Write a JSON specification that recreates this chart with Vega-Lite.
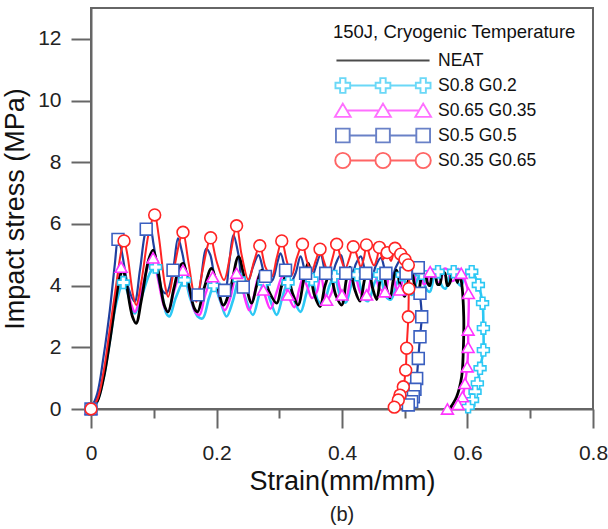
{
  "$schema": "https://vega.github.io/schema/vega-lite/v6.json",
  "width": 502,
  "height": 401,
  "autosize": {"type": "none"},
  "padding": {"left": 91, "top": 8, "right": 15, "bottom": 120},
  "config": {
    "font": "Liberation Sans",
    "view": {"stroke": "#666666", "strokeWidth": 2},
    "axis": {"grid": false, "labelFlush": false, "labelOverlap": false}
  },
  "title": {"text": "(b)", "orient": "bottom", "fontSize": 20, "fontWeight": "normal", "font": "Liberation Sans", "color": "#222222", "offset": 11},
  "datasets": {
    "curves": [
      {"s":"S0.8 G0.2","x":0,"y":0},{"s":"S0.8 G0.2","x":0.01,"y":0.25},{"s":"S0.8 G0.2","x":0.02,"y":1.0},{"s":"S0.8 G0.2","x":0.03,"y":2.2},{"s":"S0.8 G0.2","x":0.04,"y":3.4},{"s":"S0.8 G0.2","x":0.0515,"y":4.1},{"s":"S0.8 G0.2","x":0.058,"y":3.8},{"s":"S0.8 G0.2","x":0.066,"y":3.2},{"s":"S0.8 G0.2","x":0.07,"y":3.1},{"s":"S0.8 G0.2","x":0.08,"y":3.6},{"s":"S0.8 G0.2","x":0.095,"y":4.45},{"s":"S0.8 G0.2","x":0.103,"y":4.6},{"s":"S0.8 G0.2","x":0.11,"y":4.1},{"s":"S0.8 G0.2","x":0.12,"y":3.1},{"s":"S0.8 G0.2","x":0.125,"y":3.0},{"s":"S0.8 G0.2","x":0.135,"y":3.6},{"s":"S0.8 G0.2","x":0.149,"y":4.18},{"s":"S0.8 G0.2","x":0.158,"y":3.6},{"s":"S0.8 G0.2","x":0.17,"y":3.0},{"s":"S0.8 G0.2","x":0.178,"y":2.94},{"s":"S0.8 G0.2","x":0.188,"y":3.6},{"s":"S0.8 G0.2","x":0.196,"y":4.0},{"s":"S0.8 G0.2","x":0.206,"y":3.5},{"s":"S0.8 G0.2","x":0.216,"y":3.0},{"s":"S0.8 G0.2","x":0.226,"y":3.5},{"s":"S0.8 G0.2","x":0.236,"y":4.2},{"s":"S0.8 G0.2","x":0.246,"y":3.6},{"s":"S0.8 G0.2","x":0.258,"y":3.05},{"s":"S0.8 G0.2","x":0.268,"y":3.7},{"s":"S0.8 G0.2","x":0.276,"y":4.1},{"s":"S0.8 G0.2","x":0.286,"y":3.5},{"s":"S0.8 G0.2","x":0.296,"y":3.05},{"s":"S0.8 G0.2","x":0.306,"y":3.7},{"s":"S0.8 G0.2","x":0.314,"y":4.1},{"s":"S0.8 G0.2","x":0.324,"y":3.5},{"s":"S0.8 G0.2","x":0.334,"y":3.15},{"s":"S0.8 G0.2","x":0.344,"y":3.8},{"s":"S0.8 G0.2","x":0.352,"y":4.2},{"s":"S0.8 G0.2","x":0.362,"y":3.5},{"s":"S0.8 G0.2","x":0.37,"y":3.4},{"s":"S0.8 G0.2","x":0.38,"y":4.0},{"s":"S0.8 G0.2","x":0.388,"y":4.3},{"s":"S0.8 G0.2","x":0.398,"y":3.6},{"s":"S0.8 G0.2","x":0.406,"y":3.45},{"s":"S0.8 G0.2","x":0.416,"y":4.1},{"s":"S0.8 G0.2","x":0.424,"y":4.35},{"s":"S0.8 G0.2","x":0.434,"y":3.6},{"s":"S0.8 G0.2","x":0.442,"y":3.5},{"s":"S0.8 G0.2","x":0.452,"y":4.1},{"s":"S0.8 G0.2","x":0.46,"y":4.35},{"s":"S0.8 G0.2","x":0.47,"y":3.65},{"s":"S0.8 G0.2","x":0.478,"y":3.55},{"s":"S0.8 G0.2","x":0.488,"y":4.1},{"s":"S0.8 G0.2","x":0.496,"y":4.35},{"s":"S0.8 G0.2","x":0.505,"y":3.8},{"s":"S0.8 G0.2","x":0.512,"y":3.7},{"s":"S0.8 G0.2","x":0.52,"y":4.2},{"s":"S0.8 G0.2","x":0.527,"y":4.4},{"s":"S0.8 G0.2","x":0.534,"y":3.9},{"s":"S0.8 G0.2","x":0.54,"y":3.8},{"s":"S0.8 G0.2","x":0.547,"y":4.3},{"s":"S0.8 G0.2","x":0.553,"y":4.45},{"s":"S0.8 G0.2","x":0.559,"y":4.0},{"s":"S0.8 G0.2","x":0.565,"y":3.9},{"s":"S0.8 G0.2","x":0.572,"y":4.35},{"s":"S0.8 G0.2","x":0.578,"y":4.45},{"s":"S0.8 G0.2","x":0.584,"y":4.1},{"s":"S0.8 G0.2","x":0.59,"y":4.0},{"s":"S0.8 G0.2","x":0.596,"y":4.3},{"s":"S0.8 G0.2","x":0.6067,"y":4.45},{"s":"S0.8 G0.2","x":0.6173,"y":4.02},{"s":"S0.8 G0.2","x":0.624,"y":3.43},{"s":"S0.8 G0.2","x":0.6253,"y":2.62},{"s":"S0.8 G0.2","x":0.6253,"y":1.91},{"s":"S0.8 G0.2","x":0.62,"y":1.32},{"s":"S0.8 G0.2","x":0.6157,"y":0.83},{"s":"S0.8 G0.2","x":0.612,"y":0.56},{"s":"S0.8 G0.2","x":0.608,"y":0.29},{"s":"S0.8 G0.2","x":0.601,"y":0.07},{"s":"S0.8 G0.2","x":0.597,"y":0.0},

      {"s":"S0.65 G0.35","x":0,"y":0},{"s":"S0.65 G0.35","x":0.01,"y":0.3},{"s":"S0.65 G0.35","x":0.02,"y":1.1},{"s":"S0.65 G0.35","x":0.03,"y":2.3},{"s":"S0.65 G0.35","x":0.04,"y":3.7},{"s":"S0.65 G0.35","x":0.048,"y":4.6},{"s":"S0.65 G0.35","x":0.053,"y":4.4},{"s":"S0.65 G0.35","x":0.064,"y":3.4},{"s":"S0.65 G0.35","x":0.07,"y":3.15},{"s":"S0.65 G0.35","x":0.08,"y":3.8},{"s":"S0.65 G0.35","x":0.093,"y":4.75},{"s":"S0.65 G0.35","x":0.099,"y":4.9},{"s":"S0.65 G0.35","x":0.106,"y":4.3},{"s":"S0.65 G0.35","x":0.117,"y":3.3},{"s":"S0.65 G0.35","x":0.1227,"y":3.15},{"s":"S0.65 G0.35","x":0.132,"y":3.8},{"s":"S0.65 G0.35","x":0.142,"y":4.4},{"s":"S0.65 G0.35","x":0.1466,"y":4.5},{"s":"S0.65 G0.35","x":0.155,"y":4.0},{"s":"S0.65 G0.35","x":0.166,"y":3.15},{"s":"S0.65 G0.35","x":0.173,"y":3.05},{"s":"S0.65 G0.35","x":0.182,"y":3.7},{"s":"S0.65 G0.35","x":0.194,"y":4.29},{"s":"S0.65 G0.35","x":0.2,"y":4.0},{"s":"S0.65 G0.35","x":0.213,"y":3.2},{"s":"S0.65 G0.35","x":0.222,"y":3.6},{"s":"S0.65 G0.35","x":0.232,"y":4.4},{"s":"S0.65 G0.35","x":0.24,"y":4.0},{"s":"S0.65 G0.35","x":0.252,"y":3.2},{"s":"S0.65 G0.35","x":0.26,"y":3.7},{"s":"S0.65 G0.35","x":0.267,"y":4.3},{"s":"S0.65 G0.35","x":0.2747,"y":3.86},{"s":"S0.65 G0.35","x":0.286,"y":3.25},{"s":"S0.65 G0.35","x":0.296,"y":3.8},{"s":"S0.65 G0.35","x":0.305,"y":4.3},{"s":"S0.65 G0.35","x":0.314,"y":3.7},{"s":"S0.65 G0.35","x":0.324,"y":3.3},{"s":"S0.65 G0.35","x":0.332,"y":3.9},{"s":"S0.65 G0.35","x":0.338,"y":4.25},{"s":"S0.65 G0.35","x":0.344,"y":4.0},{"s":"S0.65 G0.35","x":0.352,"y":3.6},{"s":"S0.65 G0.35","x":0.36,"y":3.8},{"s":"S0.65 G0.35","x":0.366,"y":4.35},{"s":"S0.65 G0.35","x":0.3756,"y":3.53},{"s":"S0.65 G0.35","x":0.384,"y":3.8},{"s":"S0.65 G0.35","x":0.39,"y":4.4},{"s":"S0.65 G0.35","x":0.4,"y":3.7},{"s":"S0.65 G0.35","x":0.406,"y":3.6},{"s":"S0.65 G0.35","x":0.414,"y":4.2},{"s":"S0.65 G0.35","x":0.42,"y":4.4},{"s":"S0.65 G0.35","x":0.43,"y":3.75},{"s":"S0.65 G0.35","x":0.4393,"y":3.7},{"s":"S0.65 G0.35","x":0.446,"y":4.2},{"s":"S0.65 G0.35","x":0.452,"y":4.4},{"s":"S0.65 G0.35","x":0.46,"y":3.9},{"s":"S0.65 G0.35","x":0.4685,"y":3.8},{"s":"S0.65 G0.35","x":0.475,"y":4.3},{"s":"S0.65 G0.35","x":0.48,"y":4.4},{"s":"S0.65 G0.35","x":0.487,"y":3.9},{"s":"S0.65 G0.35","x":0.492,"y":3.86},{"s":"S0.65 G0.35","x":0.498,"y":4.3},{"s":"S0.65 G0.35","x":0.503,"y":4.45},{"s":"S0.65 G0.35","x":0.509,"y":4.0},{"s":"S0.65 G0.35","x":0.514,"y":4.0},{"s":"S0.65 G0.35","x":0.519,"y":4.5},{"s":"S0.65 G0.35","x":0.524,"y":4.45},{"s":"S0.65 G0.35","x":0.53,"y":4.05},{"s":"S0.65 G0.35","x":0.535,"y":4.1},{"s":"S0.65 G0.35","x":0.5405,"y":4.45},{"s":"S0.65 G0.35","x":0.546,"y":4.5},{"s":"S0.65 G0.35","x":0.552,"y":4.1},{"s":"S0.65 G0.35","x":0.557,"y":4.15},{"s":"S0.65 G0.35","x":0.563,"y":4.55},{"s":"S0.65 G0.35","x":0.569,"y":4.5},{"s":"S0.65 G0.35","x":0.575,"y":4.15},{"s":"S0.65 G0.35","x":0.58,"y":4.2},{"s":"S0.65 G0.35","x":0.585,"y":4.55},{"s":"S0.65 G0.35","x":0.59,"y":4.4},{"s":"S0.65 G0.35","x":0.5955,"y":4.2},{"s":"S0.65 G0.35","x":0.6014,"y":3.75},{"s":"S0.65 G0.35","x":0.601,"y":2.56},{"s":"S0.65 G0.35","x":0.601,"y":2.0},{"s":"S0.65 G0.35","x":0.5995,"y":1.37},{"s":"S0.65 G0.35","x":0.596,"y":0.83},{"s":"S0.65 G0.35","x":0.592,"y":0.4},{"s":"S0.65 G0.35","x":0.585,"y":0.15},{"s":"S0.65 G0.35","x":0.568,"y":0.0},

      {"s":"S0.5 G0.5","x":0,"y":0},{"s":"S0.5 G0.5","x":0.01,"y":0.5},{"s":"S0.5 G0.5","x":0.02,"y":1.7},{"s":"S0.5 G0.5","x":0.03,"y":3.2},{"s":"S0.5 G0.5","x":0.038,"y":4.7},{"s":"S0.5 G0.5","x":0.043,"y":5.5},{"s":"S0.5 G0.5","x":0.048,"y":5.2},{"s":"S0.5 G0.5","x":0.06,"y":3.9},{"s":"S0.5 G0.5","x":0.0696,"y":3.48},{"s":"S0.5 G0.5","x":0.078,"y":4.5},{"s":"S0.5 G0.5","x":0.088,"y":5.83},{"s":"S0.5 G0.5","x":0.0935,"y":5.96},{"s":"S0.5 G0.5","x":0.1,"y":5.3},{"s":"S0.5 G0.5","x":0.112,"y":3.9},{"s":"S0.5 G0.5","x":0.12,"y":3.75},{"s":"S0.5 G0.5","x":0.1307,"y":4.5},{"s":"S0.5 G0.5","x":0.1387,"y":5.53},{"s":"S0.5 G0.5","x":0.145,"y":5.1},{"s":"S0.5 G0.5","x":0.158,"y":3.8},{"s":"S0.5 G0.5","x":0.165,"y":3.59},{"s":"S0.5 G0.5","x":0.1705,"y":3.7},{"s":"S0.5 G0.5","x":0.1838,"y":5.2},{"s":"S0.5 G0.5","x":0.19,"y":5.0},{"s":"S0.5 G0.5","x":0.2,"y":4.1},{"s":"S0.5 G0.5","x":0.213,"y":3.85},{"s":"S0.5 G0.5","x":0.22,"y":4.7},{"s":"S0.5 G0.5","x":0.227,"y":5.64},{"s":"S0.5 G0.5","x":0.235,"y":5.0},{"s":"S0.5 G0.5","x":0.2427,"y":3.95},{"s":"S0.5 G0.5","x":0.25,"y":4.1},{"s":"S0.5 G0.5","x":0.258,"y":4.6},{"s":"S0.5 G0.5","x":0.267,"y":4.99},{"s":"S0.5 G0.5","x":0.278,"y":4.3},{"s":"S0.5 G0.5","x":0.288,"y":4.15},{"s":"S0.5 G0.5","x":0.297,"y":4.75},{"s":"S0.5 G0.5","x":0.302,"y":5.05},{"s":"S0.5 G0.5","x":0.31,"y":4.5},{"s":"S0.5 G0.5","x":0.318,"y":4.1},{"s":"S0.5 G0.5","x":0.326,"y":4.4},{"s":"S0.5 G0.5","x":0.334,"y":4.95},{"s":"S0.5 G0.5","x":0.342,"y":4.4},{"s":"S0.5 G0.5","x":0.35,"y":4.15},{"s":"S0.5 G0.5","x":0.358,"y":4.6},{"s":"S0.5 G0.5","x":0.366,"y":5.0},{"s":"S0.5 G0.5","x":0.374,"y":4.4},{"s":"S0.5 G0.5","x":0.382,"y":4.2},{"s":"S0.5 G0.5","x":0.39,"y":4.7},{"s":"S0.5 G0.5","x":0.398,"y":5.0},{"s":"S0.5 G0.5","x":0.406,"y":4.4},{"s":"S0.5 G0.5","x":0.414,"y":4.2},{"s":"S0.5 G0.5","x":0.422,"y":4.7},{"s":"S0.5 G0.5","x":0.43,"y":4.95},{"s":"S0.5 G0.5","x":0.438,"y":4.4},{"s":"S0.5 G0.5","x":0.446,"y":4.2},{"s":"S0.5 G0.5","x":0.454,"y":4.65},{"s":"S0.5 G0.5","x":0.462,"y":4.9},{"s":"S0.5 G0.5","x":0.47,"y":4.4},{"s":"S0.5 G0.5","x":0.478,"y":4.2},{"s":"S0.5 G0.5","x":0.486,"y":4.6},{"s":"S0.5 G0.5","x":0.494,"y":4.85},{"s":"S0.5 G0.5","x":0.502,"y":4.4},{"s":"S0.5 G0.5","x":0.51,"y":4.3},{"s":"S0.5 G0.5","x":0.516,"y":4.6},{"s":"S0.5 G0.5","x":0.5216,"y":4.58},{"s":"S0.5 G0.5","x":0.5243,"y":3.75},{"s":"S0.5 G0.5","x":0.527,"y":2.99},{"s":"S0.5 G0.5","x":0.5243,"y":2.34},{"s":"S0.5 G0.5","x":0.5216,"y":1.64},{"s":"S0.5 G0.5","x":0.519,"y":0.99},{"s":"S0.5 G0.5","x":0.5163,"y":0.64},{"s":"S0.5 G0.5","x":0.5137,"y":0.4},{"s":"S0.5 G0.5","x":0.511,"y":0.24},{"s":"S0.5 G0.5","x":0.5057,"y":0.13},{"s":"S0.5 G0.5","x":0.502,"y":0.05},

      {"s":"NEAT","x":0,"y":0},{"s":"NEAT","x":0.01,"y":0.25},{"s":"NEAT","x":0.02,"y":1.0},{"s":"NEAT","x":0.03,"y":2.2},{"s":"NEAT","x":0.04,"y":3.6},{"s":"NEAT","x":0.047,"y":4.35},{"s":"NEAT","x":0.051,"y":4.5},{"s":"NEAT","x":0.056,"y":4.1},{"s":"NEAT","x":0.066,"y":3.0},{"s":"NEAT","x":0.072,"y":2.78},{"s":"NEAT","x":0.08,"y":3.5},{"s":"NEAT","x":0.092,"y":4.85},{"s":"NEAT","x":0.099,"y":5.15},{"s":"NEAT","x":0.106,"y":4.6},{"s":"NEAT","x":0.117,"y":3.35},{"s":"NEAT","x":0.123,"y":3.15},{"s":"NEAT","x":0.132,"y":3.9},{"s":"NEAT","x":0.141,"y":4.6},{"s":"NEAT","x":0.147,"y":4.72},{"s":"NEAT","x":0.155,"y":4.1},{"s":"NEAT","x":0.165,"y":3.25},{"s":"NEAT","x":0.17,"y":3.15},{"s":"NEAT","x":0.18,"y":3.9},{"s":"NEAT","x":0.192,"y":4.56},{"s":"NEAT","x":0.2,"y":4.1},{"s":"NEAT","x":0.211,"y":3.37},{"s":"NEAT","x":0.222,"y":3.9},{"s":"NEAT","x":0.235,"y":4.94},{"s":"NEAT","x":0.245,"y":4.2},{"s":"NEAT","x":0.256,"y":3.43},{"s":"NEAT","x":0.264,"y":4.0},{"s":"NEAT","x":0.272,"y":4.5},{"s":"NEAT","x":0.284,"y":3.8},{"s":"NEAT","x":0.296,"y":3.43},{"s":"NEAT","x":0.304,"y":4.0},{"s":"NEAT","x":0.312,"y":4.34},{"s":"NEAT","x":0.322,"y":3.7},{"s":"NEAT","x":0.33,"y":3.37},{"s":"NEAT","x":0.34,"y":4.3},{"s":"NEAT","x":0.346,"y":4.72},{"s":"NEAT","x":0.356,"y":3.7},{"s":"NEAT","x":0.365,"y":3.32},{"s":"NEAT","x":0.373,"y":4.0},{"s":"NEAT","x":0.381,"y":4.4},{"s":"NEAT","x":0.39,"y":3.7},{"s":"NEAT","x":0.3995,"y":3.37},{"s":"NEAT","x":0.407,"y":4.2},{"s":"NEAT","x":0.4127,"y":4.6},{"s":"NEAT","x":0.42,"y":3.9},{"s":"NEAT","x":0.4287,"y":3.5},{"s":"NEAT","x":0.436,"y":4.2},{"s":"NEAT","x":0.442,"y":4.55},{"s":"NEAT","x":0.449,"y":3.9},{"s":"NEAT","x":0.4553,"y":3.55},{"s":"NEAT","x":0.461,"y":4.2},{"s":"NEAT","x":0.4658,"y":4.5},{"s":"NEAT","x":0.471,"y":3.9},{"s":"NEAT","x":0.4765,"y":3.6},{"s":"NEAT","x":0.482,"y":4.2},{"s":"NEAT","x":0.487,"y":4.5},{"s":"NEAT","x":0.494,"y":3.9},{"s":"NEAT","x":0.5,"y":3.65},{"s":"NEAT","x":0.506,"y":4.2},{"s":"NEAT","x":0.511,"y":4.5},{"s":"NEAT","x":0.516,"y":4.0},{"s":"NEAT","x":0.5216,"y":3.8},{"s":"NEAT","x":0.527,"y":4.3},{"s":"NEAT","x":0.532,"y":4.45},{"s":"NEAT","x":0.536,"y":4.1},{"s":"NEAT","x":0.54,"y":4.0},{"s":"NEAT","x":0.544,"y":4.4},{"s":"NEAT","x":0.548,"y":4.45},{"s":"NEAT","x":0.552,"y":4.05},{"s":"NEAT","x":0.556,"y":4.05},{"s":"NEAT","x":0.56,"y":4.45},{"s":"NEAT","x":0.564,"y":4.4},{"s":"NEAT","x":0.568,"y":4.0},{"s":"NEAT","x":0.572,"y":4.1},{"s":"NEAT","x":0.576,"y":4.5},{"s":"NEAT","x":0.58,"y":4.35},{"s":"NEAT","x":0.584,"y":4.1},{"s":"NEAT","x":0.587,"y":4.4},{"s":"NEAT","x":0.5907,"y":4.07},{"s":"NEAT","x":0.594,"y":2.99},{"s":"NEAT","x":0.5933,"y":1.91},{"s":"NEAT","x":0.5907,"y":1.05},{"s":"NEAT","x":0.5827,"y":0.4},{"s":"NEAT","x":0.572,"y":0.02},

      {"s":"S0.35 G0.65","x":0,"y":0},{"s":"S0.35 G0.65","x":0.01,"y":0.3},{"s":"S0.35 G0.65","x":0.02,"y":1.2},{"s":"S0.35 G0.65","x":0.03,"y":2.6},{"s":"S0.35 G0.65","x":0.04,"y":4.0},{"s":"S0.35 G0.65","x":0.048,"y":5.1},{"s":"S0.35 G0.65","x":0.0526,"y":5.45},{"s":"S0.35 G0.65","x":0.058,"y":5.0},{"s":"S0.35 G0.65","x":0.067,"y":3.7},{"s":"S0.35 G0.65","x":0.072,"y":3.37},{"s":"S0.35 G0.65","x":0.08,"y":4.1},{"s":"S0.35 G0.65","x":0.093,"y":5.8},{"s":"S0.35 G0.65","x":0.1015,"y":6.29},{"s":"S0.35 G0.65","x":0.108,"y":5.6},{"s":"S0.35 G0.65","x":0.118,"y":4.0},{"s":"S0.35 G0.65","x":0.123,"y":3.64},{"s":"S0.35 G0.65","x":0.132,"y":4.5},{"s":"S0.35 G0.65","x":0.142,"y":5.5},{"s":"S0.35 G0.65","x":0.1466,"y":5.73},{"s":"S0.35 G0.65","x":0.155,"y":4.8},{"s":"S0.35 G0.65","x":0.164,"y":3.7},{"s":"S0.35 G0.65","x":0.168,"y":3.48},{"s":"S0.35 G0.65","x":0.176,"y":4.3},{"s":"S0.35 G0.65","x":0.186,"y":5.3},{"s":"S0.35 G0.65","x":0.1907,"y":5.55},{"s":"S0.35 G0.65","x":0.2,"y":4.8},{"s":"S0.35 G0.65","x":0.212,"y":4.18},{"s":"S0.35 G0.65","x":0.222,"y":5.0},{"s":"S0.35 G0.65","x":0.232,"y":5.94},{"s":"S0.35 G0.65","x":0.24,"y":5.0},{"s":"S0.35 G0.65","x":0.251,"y":4.18},{"s":"S0.35 G0.65","x":0.26,"y":4.8},{"s":"S0.35 G0.65","x":0.269,"y":5.29},{"s":"S0.35 G0.65","x":0.278,"y":4.6},{"s":"S0.35 G0.65","x":0.288,"y":4.29},{"s":"S0.35 G0.65","x":0.296,"y":4.9},{"s":"S0.35 G0.65","x":0.304,"y":5.45},{"s":"S0.35 G0.65","x":0.312,"y":4.8},{"s":"S0.35 G0.65","x":0.32,"y":4.34},{"s":"S0.35 G0.65","x":0.328,"y":4.9},{"s":"S0.35 G0.65","x":0.337,"y":5.34},{"s":"S0.35 G0.65","x":0.344,"y":4.8},{"s":"S0.35 G0.65","x":0.3515,"y":4.45},{"s":"S0.35 G0.65","x":0.358,"y":4.8},{"s":"S0.35 G0.65","x":0.365,"y":5.18},{"s":"S0.35 G0.65","x":0.371,"y":4.8},{"s":"S0.35 G0.65","x":0.378,"y":4.45},{"s":"S0.35 G0.65","x":0.385,"y":4.9},{"s":"S0.35 G0.65","x":0.3915,"y":5.34},{"s":"S0.35 G0.65","x":0.398,"y":4.9},{"s":"S0.35 G0.65","x":0.405,"y":4.55},{"s":"S0.35 G0.65","x":0.412,"y":4.9},{"s":"S0.35 G0.65","x":0.418,"y":5.26},{"s":"S0.35 G0.65","x":0.425,"y":4.9},{"s":"S0.35 G0.65","x":0.43,"y":4.6},{"s":"S0.35 G0.65","x":0.435,"y":4.9},{"s":"S0.35 G0.65","x":0.439,"y":5.32},{"s":"S0.35 G0.65","x":0.445,"y":4.9},{"s":"S0.35 G0.65","x":0.451,"y":4.65},{"s":"S0.35 G0.65","x":0.456,"y":4.9},{"s":"S0.35 G0.65","x":0.4595,"y":5.24},{"s":"S0.35 G0.65","x":0.465,"y":4.85},{"s":"S0.35 G0.65","x":0.472,"y":5.07},{"s":"S0.35 G0.65","x":0.478,"y":4.8},{"s":"S0.35 G0.65","x":0.4845,"y":5.21},{"s":"S0.35 G0.65","x":0.489,"y":4.9},{"s":"S0.35 G0.65","x":0.4935,"y":5.02},{"s":"S0.35 G0.65","x":0.497,"y":4.85},{"s":"S0.35 G0.65","x":0.5004,"y":4.85},{"s":"S0.35 G0.65","x":0.5057,"y":4.67},{"s":"S0.35 G0.65","x":0.5072,"y":4.3},{"s":"S0.35 G0.65","x":0.5065,"y":3.9},{"s":"S0.35 G0.65","x":0.5057,"y":2.99},{"s":"S0.35 G0.65","x":0.503,"y":1.97},{"s":"S0.35 G0.65","x":0.5015,"y":1.26},{"s":"S0.35 G0.65","x":0.4977,"y":0.72},{"s":"S0.35 G0.65","x":0.4924,"y":0.45},{"s":"S0.35 G0.65","x":0.4897,"y":0.29},{"s":"S0.35 G0.65","x":0.4833,"y":0.06}
    ],
    "markers": [
      {"s":"S0.8 G0.2","x":0,"y":0},{"s":"S0.8 G0.2","x":0.0515,"y":4.1},{"s":"S0.8 G0.2","x":0.103,"y":4.6},{"s":"S0.8 G0.2","x":0.149,"y":4.18},{"s":"S0.8 G0.2","x":0.196,"y":4.0},{"s":"S0.8 G0.2","x":0.236,"y":4.2},{"s":"S0.8 G0.2","x":0.276,"y":4.1},{"s":"S0.8 G0.2","x":0.314,"y":4.1},{"s":"S0.8 G0.2","x":0.352,"y":4.2},{"s":"S0.8 G0.2","x":0.388,"y":4.3},{"s":"S0.8 G0.2","x":0.424,"y":4.35},{"s":"S0.8 G0.2","x":0.46,"y":4.35},{"s":"S0.8 G0.2","x":0.496,"y":4.35},{"s":"S0.8 G0.2","x":0.527,"y":4.4},{"s":"S0.8 G0.2","x":0.553,"y":4.45},{"s":"S0.8 G0.2","x":0.578,"y":4.45},{"s":"S0.8 G0.2","x":0.6067,"y":4.45},{"s":"S0.8 G0.2","x":0.6173,"y":4.02},{"s":"S0.8 G0.2","x":0.624,"y":3.43},{"s":"S0.8 G0.2","x":0.6253,"y":2.62},{"s":"S0.8 G0.2","x":0.6253,"y":1.91},{"s":"S0.8 G0.2","x":0.62,"y":1.32},{"s":"S0.8 G0.2","x":0.6157,"y":0.83},{"s":"S0.8 G0.2","x":0.612,"y":0.56},{"s":"S0.8 G0.2","x":0.608,"y":0.29},{"s":"S0.8 G0.2","x":0.601,"y":0.07},
      {"s":"S0.65 G0.35","x":0,"y":0},{"s":"S0.65 G0.35","x":0.048,"y":4.6},{"s":"S0.65 G0.35","x":0.099,"y":4.9},{"s":"S0.65 G0.35","x":0.1466,"y":4.5},{"s":"S0.65 G0.35","x":0.194,"y":4.29},{"s":"S0.65 G0.35","x":0.232,"y":4.4},{"s":"S0.65 G0.35","x":0.2747,"y":3.86},{"s":"S0.65 G0.35","x":0.314,"y":3.7},{"s":"S0.65 G0.35","x":0.3756,"y":3.53},{"s":"S0.65 G0.35","x":0.4,"y":3.7},{"s":"S0.65 G0.35","x":0.4393,"y":3.7},{"s":"S0.65 G0.35","x":0.4685,"y":3.8},{"s":"S0.65 G0.35","x":0.492,"y":3.86},{"s":"S0.65 G0.35","x":0.5405,"y":4.45},{"s":"S0.65 G0.35","x":0.59,"y":4.4},{"s":"S0.65 G0.35","x":0.6014,"y":3.75},{"s":"S0.65 G0.35","x":0.601,"y":2.56},{"s":"S0.65 G0.35","x":0.601,"y":2.0},{"s":"S0.65 G0.35","x":0.5995,"y":1.37},{"s":"S0.65 G0.35","x":0.596,"y":0.83},{"s":"S0.65 G0.35","x":0.592,"y":0.4},{"s":"S0.65 G0.35","x":0.585,"y":0.15},{"s":"S0.65 G0.35","x":0.568,"y":0.0},
      {"s":"S0.5 G0.5","x":0,"y":0},{"s":"S0.5 G0.5","x":0.043,"y":5.5},{"s":"S0.5 G0.5","x":0.088,"y":5.83},{"s":"S0.5 G0.5","x":0.1307,"y":4.5},{"s":"S0.5 G0.5","x":0.1705,"y":3.7},{"s":"S0.5 G0.5","x":0.213,"y":3.85},{"s":"S0.5 G0.5","x":0.2427,"y":3.95},{"s":"S0.5 G0.5","x":0.278,"y":4.3},{"s":"S0.5 G0.5","x":0.31,"y":4.5},{"s":"S0.5 G0.5","x":0.342,"y":4.4},{"s":"S0.5 G0.5","x":0.374,"y":4.4},{"s":"S0.5 G0.5","x":0.406,"y":4.4},{"s":"S0.5 G0.5","x":0.438,"y":4.4},{"s":"S0.5 G0.5","x":0.47,"y":4.4},{"s":"S0.5 G0.5","x":0.502,"y":4.4},{"s":"S0.5 G0.5","x":0.5216,"y":4.58},{"s":"S0.5 G0.5","x":0.5243,"y":3.75},{"s":"S0.5 G0.5","x":0.527,"y":2.99},{"s":"S0.5 G0.5","x":0.5243,"y":2.34},{"s":"S0.5 G0.5","x":0.5216,"y":1.64},{"s":"S0.5 G0.5","x":0.519,"y":0.99},{"s":"S0.5 G0.5","x":0.5163,"y":0.64},{"s":"S0.5 G0.5","x":0.5137,"y":0.4},{"s":"S0.5 G0.5","x":0.511,"y":0.24},{"s":"S0.5 G0.5","x":0.5057,"y":0.13},
      {"s":"S0.35 G0.65","x":0,"y":0},{"s":"S0.35 G0.65","x":0.0526,"y":5.45},{"s":"S0.35 G0.65","x":0.1015,"y":6.29},{"s":"S0.35 G0.65","x":0.1466,"y":5.73},{"s":"S0.35 G0.65","x":0.1907,"y":5.55},{"s":"S0.35 G0.65","x":0.232,"y":5.94},{"s":"S0.35 G0.65","x":0.269,"y":5.29},{"s":"S0.35 G0.65","x":0.304,"y":5.45},{"s":"S0.35 G0.65","x":0.337,"y":5.34},{"s":"S0.35 G0.65","x":0.365,"y":5.18},{"s":"S0.35 G0.65","x":0.3915,"y":5.34},{"s":"S0.35 G0.65","x":0.418,"y":5.26},{"s":"S0.35 G0.65","x":0.439,"y":5.32},{"s":"S0.35 G0.65","x":0.4595,"y":5.24},{"s":"S0.35 G0.65","x":0.472,"y":5.07},{"s":"S0.35 G0.65","x":0.4845,"y":5.21},{"s":"S0.35 G0.65","x":0.4935,"y":5.02},{"s":"S0.35 G0.65","x":0.5004,"y":4.85},{"s":"S0.35 G0.65","x":0.5057,"y":4.67},{"s":"S0.35 G0.65","x":0.5065,"y":3.9},{"s":"S0.35 G0.65","x":0.5057,"y":2.99},{"s":"S0.35 G0.65","x":0.503,"y":1.97},{"s":"S0.35 G0.65","x":0.5015,"y":1.26},{"s":"S0.35 G0.65","x":0.4977,"y":0.72},{"s":"S0.35 G0.65","x":0.4924,"y":0.45},{"s":"S0.35 G0.65","x":0.4897,"y":0.29},{"s":"S0.35 G0.65","x":0.4833,"y":0.06}
    ]
  },
  "resolve": {"scale": {"color": "independent", "shape": "independent"}},
  "layer": [
    {
      "data": {"name": "curves"},
      "mark": {"type": "line", "interpolate": "catmull-rom"},
      "encoding": {
        "x": {"field": "x", "type": "quantitative", "scale": {"domain": [0, 0.8], "nice": false},
          "axis": {"values": [0,0.1,0.2,0.3,0.4,0.5,0.6,0.7,0.8], "title": "Strain(mm/mm)", "format": "~g",
            "labelExpr": "round(datum.value*10) % 2 == 0 ? datum.label : ''", "labelFlush": false,
            "tickSize": {"condition": {"test": "round(datum.value*10) % 2 == 0", "value": 19}, "value": 9},
            "labelPadding": 14, "labelFontSize": 21, "labelColor": "#222222", "labelFont": "Liberation Sans",
            "titleFontSize": 27, "titleFontWeight": "normal", "titleColor": "#111111", "titleFont": "Liberation Sans", "titlePadding": 5,
            "domainColor": "#666666", "domainWidth": 2, "tickColor": "#666666", "tickWidth": 2, "grid": false}},
        "y": {"field": "y", "type": "quantitative", "scale": {"domain": [0, 13], "nice": false},
          "axis": {"values": [0,1,2,3,4,5,6,7,8,9,10,11,12,13], "title": "Impact stress (MPa)",
            "labelExpr": "datum.value % 2 == 0 ? datum.label : ''", "labelFlush": false,
            "tickSize": {"condition": {"test": "datum.value % 2 == 0", "value": 20}, "value": 10},
            "labelPadding": 10, "labelFontSize": 21, "labelColor": "#222222", "labelFont": "Liberation Sans",
            "titleFontSize": 27, "titleFontWeight": "normal", "titleColor": "#111111", "titleFont": "Liberation Sans", "titlePadding": 8,
            "domainColor": "#666666", "domainWidth": 2, "tickColor": "#666666", "tickWidth": 2, "grid": false}},
        "color": {"field": "s", "type": "nominal", "legend": null,
          "scale": {"domain": ["NEAT","S0.8 G0.2","S0.65 G0.35","S0.5 G0.5","S0.35 G0.65"], "range": ["#000000","#2cc8f4","#ff33ff","#1f3f9f","#ff2424"]}},
        "strokeWidth": {"field": "s", "type": "nominal", "legend": null,
          "scale": {"domain": ["NEAT","S0.8 G0.2","S0.65 G0.35","S0.5 G0.5","S0.35 G0.65"], "range": [2.8, 2, 2, 2.2, 2.2]}},
        "order": {"value": null}
      }
    },
    {
      "data": {"name": "markers"},
      "mark": {"type": "point", "filled": false, "fill": "white", "size": 140, "strokeWidth": 1.6, "opacity": 1},
      "encoding": {
        "x": {"field": "x", "type": "quantitative"},
        "y": {"field": "y", "type": "quantitative"},
        "color": {"field": "s", "type": "nominal", "legend": null,
          "scale": {"domain": ["NEAT","S0.8 G0.2","S0.65 G0.35","S0.5 G0.5","S0.35 G0.65"], "range": ["#000000","#2cc8f4","#ff33ff","#3a5fc0","#ff2424"]}},
        "shape": {"field": "s", "type": "nominal", "legend": null,
          "scale": {"domain": ["S0.8 G0.2","S0.65 G0.35","S0.5 G0.5","S0.35 G0.65"], "range": ["cross","triangle-up","square","circle"]}}
      }
    },
    {
      "data": {"name": "curves"},
      "transform": [{"filter": "false"}],
      "mark": {"type": "point", "filled": false},
      "encoding": {
        "color": {"field": "s", "type": "nominal",
          "scale": {"domain": ["NEAT","S0.8 G0.2","S0.65 G0.35","S0.5 G0.5","S0.35 G0.65"], "range": ["#000000","#2cc8f4","#ff33ff","#2a4cb0","#ff2424"]},
          "legend": {"title": "150J, Cryogenic Temperature", "orient": "none", "legendX": 242, "legendY": 15, "padding": 0,
            "symbolSize": 9604, "symbolStrokeWidth": 1.9, "clipHeight": 20, "rowPadding": 5, "labelOffset": 5,
            "labelFontSize": 17.5, "labelFont": "Liberation Sans", "labelColor": "#111111",
            "titleFontSize": 18.5, "titleFontWeight": "normal", "titleFont": "Liberation Sans", "titleColor": "#111111", "titleLimit": 400, "titlePadding": 9}},
        "shape": {"field": "s", "type": "nominal",
          "scale": {"domain": ["NEAT","S0.8 G0.2","S0.65 G0.35","S0.5 G0.5","S0.35 G0.65"],
            "range": [
              "M-0.95,0H0.95",
              "M-0.875,-0.15H-0.765V-0.055H-0.67V0.055H-0.765V0.15H-0.875V0.055H-0.97V-0.055H-0.875ZM-0.055,-0.15H0.055V-0.055H0.15V0.055H0.055V0.15H-0.055V0.055H-0.15V-0.055H-0.055ZM0.765,-0.15H0.875V-0.055H0.97V0.055H0.875V0.15H0.765V0.055H0.67V-0.055H0.765ZM-0.67,0H-0.15M0.15,0H0.67",
              "M-0.82,-0.14L-0.66,0.13H-0.98ZM0,-0.14L0.16,0.13H-0.16ZM0.82,-0.14L0.98,0.13H0.66ZM-0.737,0H-0.083M0.083,0H0.737",
              "M-0.96,-0.14H-0.68V0.14H-0.96ZM-0.14,-0.14H0.14V0.14H-0.14ZM0.68,-0.14H0.96V0.14H0.68ZM-0.68,0H-0.14M0.14,0H0.68",
              "M-0.975,0A0.155,0.155,0,1,0,-0.665,0A0.155,0.155,0,1,0,-0.975,0ZM-0.155,0A0.155,0.155,0,1,0,0.155,0A0.155,0.155,0,1,0,-0.155,0ZM0.665,0A0.155,0.155,0,1,0,0.975,0A0.155,0.155,0,1,0,0.665,0ZM-0.665,0H-0.155M0.155,0H0.665"
            ]},
          "legend": {"title": "150J, Cryogenic Temperature", "orient": "none", "legendX": 242, "legendY": 15, "padding": 0,
            "symbolSize": 9604, "symbolStrokeWidth": 1.9, "clipHeight": 20, "rowPadding": 5, "labelOffset": 5,
            "labelFontSize": 17.5, "labelFont": "Liberation Sans", "labelColor": "#111111",
            "titleFontSize": 18.5, "titleFontWeight": "normal", "titleFont": "Liberation Sans", "titleColor": "#111111", "titleLimit": 400, "titlePadding": 9}}
      }
    }
  ]
}
